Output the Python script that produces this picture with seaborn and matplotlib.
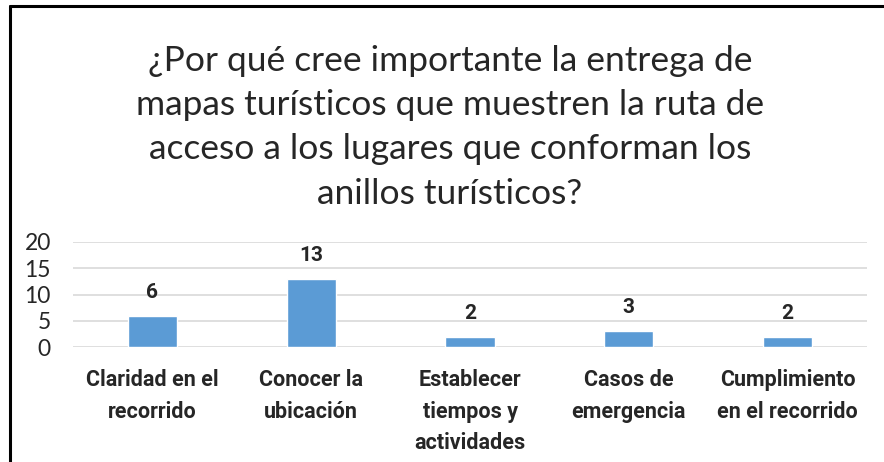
import matplotlib
matplotlib.use("Agg")
import matplotlib.pyplot as plt
import seaborn as sns
import pandas as pd
from matplotlib.lines import Line2D

categories = ["Claridad en el\nrecorrido", "Conocer la\nubicación", "Establecer\ntiempos y\nactividades",
              "Casos de\nemergencia", "Cumplimiento\nen el recorrido"]
values = [6, 13, 2, 3, 2]
yticks = [0, 5, 10, 15, 20]
title = ("¿Por qué cree importante la entrega de\nmapas turísticos que muestren la ruta de\n"
         "acceso a los lugares que conforman los\nanillos turísticos?")

sns.set_theme(style="white")
plt.rcParams['font.family'] = ['Lato', 'DejaVu Sans']
BOLD_FAMILY = ['Roboto', 'DejaVu Sans']

df = pd.DataFrame({"cat": categories, "val": values})

fig = plt.figure(figsize=(8.84, 4.62), dpi=100)
ax = fig.add_axes([73/884, 1-347/462, (867-73)/884, (347-242)/462])
sns.barplot(data=df, x="cat", y="val", color="#5B9BD5", width=0.31, ax=ax, saturation=1)

ax.set_ylim(0, 20)
ax.set_yticks(yticks)
ax.set_yticklabels([str(t) for t in yticks], fontsize=16.5)
ax.tick_params(axis='y', length=0, pad=16)
ax.tick_params(axis='x', length=0, pad=16)
ax.set_xticks(range(len(categories)))
ax.set_xticklabels(categories, fontsize=15.5, fontweight='bold', family=BOLD_FAMILY,
                   linespacing=1.55, va='top')
ax.set_xlabel("")
ax.set_ylabel("")
ax.grid(axis='y', color="#D9D9D9", linewidth=1.2)
ax.set_axisbelow(True)
for s in ax.spines.values():
    s.set_visible(False)

for i, v in enumerate(values):
    ax.annotate(str(v), (i, v), xytext=(0, 10), textcoords='offset points',
                ha='center', va='bottom', fontsize=15, fontweight='bold', family=BOLD_FAMILY)

fig.text(450/884, 1-45/462, title, ha='center', va='top', fontsize=25.5, linespacing=1.47)

fig.add_artist(Line2D([10/884, 10/884], [0, 1-6/462], color='black', linewidth=2.2, transform=fig.transFigure))
fig.add_artist(Line2D([10/884, 1], [1-6/462, 1-6/462], color='black', linewidth=2.2, transform=fig.transFigure))

fig.savefig("out.png", dpi=100)
